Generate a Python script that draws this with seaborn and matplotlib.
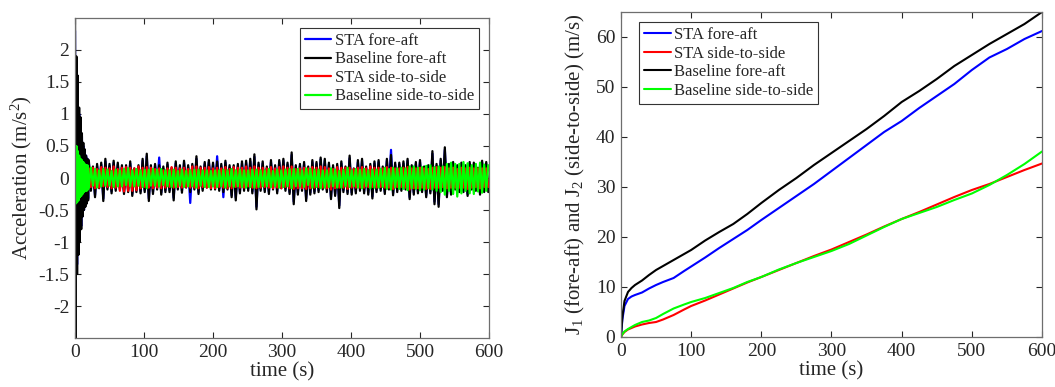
import numpy as np
import matplotlib
matplotlib.use("Agg")
import matplotlib.pyplot as plt
import seaborn as sns
from matplotlib.ticker import FuncFormatter

# ---- left panel: acceleration time histories ----
# 1 s samples over the start-up transient, then 3 s samples to the end
time_start = np.arange(0, 20, 1.0)
time_main = np.arange(20, 600, 3.0)

sta_fa_start = [2.30, -2.30, 1.70, -1.35, 1.40, -1.10, 1.00, -0.95, 0.85, -0.75,
                0.65, -0.60, 0.50, -0.50, 0.42, -0.42, 0.35, -0.38, 0.30, -0.32]
base_fa_start = [2.50, -2.50, 1.90, -1.50, 1.60, -1.20, 1.10, -1.00, 0.95, -0.80,
                 0.70, -0.60, 0.55, -0.50, 0.45, -0.45, 0.35, -0.40, 0.30, -0.35]
sta_ss_start = [0.30, -0.30, 0.28, -0.30, 0.25, -0.28, 0.22, -0.25, 0.20, -0.22,
                0.20, -0.20, 0.18, -0.20, 0.18, -0.18, 0.17, -0.18, 0.16, -0.17]
base_ss_start = [0.45, -0.40, 0.50, -0.38, 0.42, -0.35, 0.35, -0.30, 0.30, -0.28,
                 0.28, -0.25, 0.25, -0.22, 0.22, -0.20, 0.20, -0.20, 0.20, -0.18]

# after the transient, in hundredths of m/s^2 (one row = 30 s)
sta_fa_main = [
    24, -17, 16, -27, 19, -14, 21, -32, 26, -15,
    19, -21, 24, -17, 21, -15, 17, -22, 17, -19,
    23, -25, 13, -19, 17, -21, 27, -19, 34, -32,
    17, -22, 19, -15, 32, -23, 15, -19, 21, -19,
    14, -31, 23, -15, 17, -20, 24, -13, 17, -39,
    19, -15, 30, -22, 15, -17, 22, -13, 25, -15,
    21, -15, 34, -17, 19, -30, 24, -15, 17, -27,
    17, -31, 19, -21, 23, -17, 24, -17, 26, -21,
    33, -45, 21, -17, 23, -19, 15, -22, 25, -15,
    17, -21, 25, -14, 27, -17, 21, -22, 36, -37,
    17, -23, 19, -17, 22, -32, 15, -23, 25, -21,
    22, -19, 29, -15, 27, -19, 21, -30, 17, -25,
    19, -43, 23, -19, 15, -22, 31, -23, 13, -21,
    25, -17, 27, -21, 15, -23, 19, -29, 23, -19,
    25, -17, 15, -22, 27, -15, 44, -24, 21, -19,
    21, -17, 23, -15, 27, -30, 17, -23, 22, -21,
    25, -19, 15, -27, 17, -21, 38, -37, 19, -41,
    27, -17, 44, -27, 19, -23, 22, -15, 17, -19,
    21, -19, 17, -25, 22, -15, 21, -17, 13, -23,
    24, -19, 22, -19]
base_fa_main = [
    28, -20, 18, -30, 22, -16, 24, -36, 30, -18,
    22, -24, 27, -20, 24, -18, 20, -25, 20, -22,
    26, -28, 15, -22, 20, -24, 30, -22, 38, -36,
    20, -25, 22, -18, 20, -26, 18, -22, 24, -22,
    16, -35, 26, -18, 20, -23, 27, -15, 20, -22,
    22, -18, 34, -25, 18, -20, 25, -15, 28, -18,
    24, -18, 26, -20, 22, -22, 27, -18, 20, -30,
    20, -35, 22, -24, 26, -20, 27, -20, 30, -24,
    37, -49, 24, -20, 26, -22, 18, -25, 28, -18,
    20, -24, 28, -16, 30, -20, 24, -25, 40, -41,
    20, -26, 22, -20, 25, -36, 18, -26, 28, -24,
    25, -22, 32, -18, 30, -22, 24, -33, 20, -28,
    22, -47, 26, -22, 18, -25, 35, -26, 15, -24,
    28, -20, 30, -24, 18, -26, 22, -32, 26, -22,
    28, -20, 18, -25, 30, -18, 36, -27, 24, -22,
    24, -20, 26, -18, 30, -33, 20, -26, 25, -24,
    28, -22, 18, -30, 20, -24, 42, -41, 22, -45,
    30, -20, 48, -30, 22, -26, 25, -18, 20, -22,
    24, -22, 20, -28, 25, -18, 24, -20, 16, -26,
    27, -22, 25, -22]
sta_ss_main = [
    15, -14, 16, -16, 14, -15, 17, -13, 16, -14,
    15, -16, 18, -15, 14, -20, 16, -21, 17, -20,
    16, -20, 15, -19, 18, -16, 16, -14, 17, -15,
    16, -16, 14, -15, 15, -16, 12, -15, 15, -14,
    17, -15, 16, -14, 15, -15, 16, -14, 14, -15,
    18, -15, 18, -16, 16, -14, 16, -15, 17, -16,
    15, -16, 16, -14, 15, -15, 17, -16, 14, -16,
    17, -14, 16, -15, 16, -15, 18, -13, 16, -15,
    18, -16, 16, -15, 16, -14, 15, -15, 17, -16,
    15, -15, 17, -16, 18, -14, 16, -16, 18, -17,
    14, -16, 15, -16, 16, -17, 15, -16, 17, -15,
    16, -14, 18, -15, 17, -16, 15, -18, 14, -16,
    17, -15, 16, -15, 16, -17, 16, -15, 14, -15,
    16, -15, 17, -15, 15, -14, 18, -14, 16, -15,
    16, -14, 15, -15, 17, -15, 16, -17, 15, -14,
    15, -14, 16, -15, 17, -18, 15, -16, 15, -16,
    16, -15, 15, -17, 14, -17, 16, -15, 17, -15,
    16, -14, 17, -16, 15, -15, 16, -15, 14, -15,
    16, -15, 15, -17, 16, -15, 15, -14, 15, -16,
    15, -14, 15, -14]
base_ss_main = [
    -14, 16, -12, 14, -15, 12, -13, 14, -12, 13,
    -12, 11, -14, 13, -13, 12, -13, 14, -11, 15,
    -13, 12, -13, 14, -12, 12, -14, 13, -16, 13,
    -12, 14, -12, 13, -13, 14, -11, 12, -13, 12,
    -14, 13, -14, 11, -12, 13, -14, 11, -13, 12,
    -13, 13, -15, 13, -12, 12, -14, 12, -14, 11,
    -13, 12, -14, 12, -13, 13, -15, 12, -13, 14,
    -14, 12, -13, 13, -14, 12, -15, 12, -14, 13,
    -15, 13, -14, 12, -13, 12, -13, 14, -14, 11,
    -13, 13, -15, 12, -14, 13, -13, 14, -16, 14,
    -13, 14, -13, 12, -14, 15, -11, 14, -15, 13,
    -14, 13, -16, 12, -15, 12, -14, 15, -13, 13,
    -15, 11, -15, 13, -13, 16, -14, 12, -13, 14,
    -15, 13, -16, 14, -13, 12, -16, 13, -15, 13,
    -15, 14, -14, 16, -17, 14, -18, 16, -15, 15,
    -17, 16, -17, 15, -19, 18, -16, 18, -17, 16,
    -19, 17, -18, 19, -16, 20, -18, 17, -20, 18,
    -22, 18, -26, 22, -20, 24, -25, 22, -29, 22,
    -24, 25, -20, 23, -24, 20, -25, 22, -21, 24,
    -23, 21, -20, 20]

# ---- right panel: cumulative J1 / J2 ----
time_cum = [0, 2, 5, 10, 15, 20, 30, 40, 50, 60, 75, 90, 100, 120, 140, 160, 180,
            200, 225, 250, 275, 300, 325, 350, 375, 400, 425, 450, 475, 500, 525,
            550, 575, 600]
j_sta_fa = [0, 3.5, 6.2, 7.6, 8.1, 8.4, 8.9, 9.7, 10.4, 11.0, 11.8, 13.2, 14.1,
            15.9, 17.8, 19.6, 21.4, 23.4, 25.8, 28.2, 30.6, 33.2, 35.8, 38.4, 41.0,
            43.2, 45.8, 48.2, 50.6, 53.4, 55.9, 57.6, 59.6, 61.2]
j_sta_ss = [0, 0.5, 1.0, 1.5, 1.8, 2.1, 2.5, 2.8, 3.0, 3.5, 4.4, 5.5, 6.2, 7.3,
            8.5, 9.7, 10.9, 12.0, 13.4, 14.8, 16.2, 17.5, 19.0, 20.5, 22.1, 23.6,
            25.0, 26.5, 28.0, 29.4, 30.6, 32.0, 33.4, 34.7]
j_base_fa = [0, 4.0, 7.2, 9.0, 9.8, 10.4, 11.3, 12.4, 13.4, 14.2, 15.4, 16.6, 17.4,
             19.3, 21.0, 22.6, 24.6, 26.8, 29.4, 31.8, 34.4, 36.8, 39.2, 41.6, 44.2,
             47.0, 49.2, 51.6, 54.2, 56.4, 58.6, 60.6, 62.6, 65.0]
j_base_ss = [0, 0.6, 1.1, 1.6, 2.0, 2.4, 3.0, 3.3, 3.8, 4.6, 5.7, 6.5, 7.0, 7.8,
             8.8, 9.8, 11.0, 12.0, 13.5, 14.8, 16.0, 17.2, 18.6, 20.3, 22.0, 23.6,
             24.8, 26.0, 27.4, 28.7, 30.4, 32.4, 34.6, 37.1]

acc_labels = ["STA fore-aft", "Baseline fore-aft", "STA side-to-side", "Baseline side-to-side"]
cum_labels = ["STA fore-aft", "STA side-to-side", "Baseline fore-aft", "Baseline side-to-side"]

sns.set_style("ticks")
plt.rcParams["font.family"] = ["Liberation Serif", "DejaVu Serif"]
plt.rcParams["mathtext.fontset"] = "custom"
plt.rcParams["mathtext.rm"] = "Liberation Serif"
plt.rcParams["mathtext.it"] = "Liberation Serif"
plt.rcParams["axes.unicode_minus"] = False

fig = plt.figure(figsize=(10.55, 3.87), dpi=100)
ax1 = fig.add_axes([0.0711, 0.1266, 0.3924, 0.8269])
ax2 = fig.add_axes([0.5886, 0.1292, 0.3991, 0.8398])

time_acc = np.concatenate([time_start, time_main])
acc_series = [
    (sta_fa_start, sta_fa_main, "#0000ff"),
    (base_fa_start, base_fa_main, "#000000"),
    (sta_ss_start, sta_ss_main, "#ff0000"),
    (base_ss_start, base_ss_main, "#00ff00"),
]
for (start, main, col), lab in zip(acc_series, acc_labels):
    vals = np.concatenate([start, np.array(main) / 100.0])
    sns.lineplot(x=time_acc, y=vals, ax=ax1, color=col, linewidth=1.6,
                 label=lab, estimator=None, sort=False)

cum_series = [(j_sta_fa, "#0000ff"), (j_sta_ss, "#ff0000"),
              (j_base_fa, "#000000"), (j_base_ss, "#00ff00")]
for (vals, col), lab in zip(cum_series, cum_labels):
    sns.lineplot(x=time_cum, y=vals, ax=ax2, color=col, linewidth=1.5,
                 label=lab, estimator=None, sort=False)

fmt = FuncFormatter(lambda v, p: "%g" % v)
for ax in (ax1, ax2):
    ax.set_xlim(0, 600)
    ax.set_xticks(range(0, 601, 100))
    ax.set_xlabel("time (s)", fontsize=15, labelpad=1)
    ax.tick_params(direction="in", length=4, width=0.8, top=True, right=True,
                   labelsize=14, colors="#262626", pad=4)
    ax.yaxis.set_major_formatter(fmt)
    for s in ax.spines.values():
        s.set_visible(True)
        s.set_color("#6e6e6e")
        s.set_linewidth(0.9)

ax1.set_ylim(-2.5, 2.5)
ax1.set_yticks(np.arange(-2, 2.01, 0.5))
ax1.set_ylabel("Acceleration (m/s$^2$)", fontsize=15, labelpad=3)

ax2.set_ylim(0, 65)
ax2.set_yticks(range(0, 61, 10))
ax2.set_ylabel("J$_1$ (fore-aft) and J$_2$ (side-to-side) (m/s)", fontsize=15, labelpad=6)

leg_kw = dict(fontsize=12, frameon=True, fancybox=False, framealpha=1,
              edgecolor="#333333", handlelength=1.6, handletextpad=0.2,
              labelspacing=0.15, borderpad=0.3, borderaxespad=0)
l1 = ax1.legend(loc="upper right", bbox_to_anchor=(0.976, 0.969), **leg_kw)
l2 = ax2.legend(loc="upper left", bbox_to_anchor=(0.043, 0.969), **leg_kw)
for lg in (l1, l2):
    lg.get_frame().set_linewidth(0.8)

fig.savefig("out.png", dpi=100)
